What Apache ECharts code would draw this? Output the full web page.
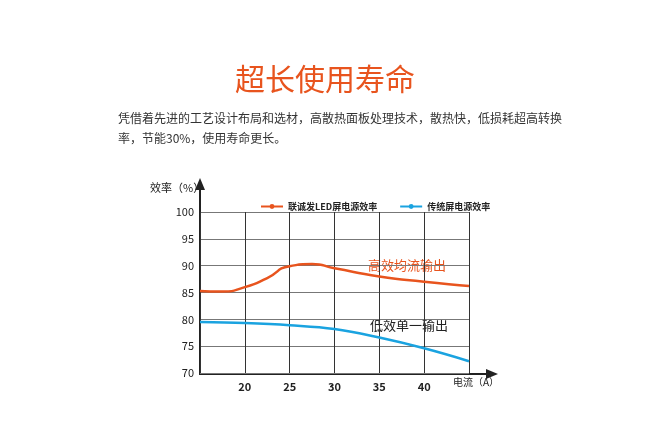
<!DOCTYPE html>
<html><head><meta charset="utf-8">
<script src="https://cdn.jsdelivr.net/npm/echarts@6/dist/echarts.min.js"></script>
<style>body{margin:0;background:#fff}#c{width:650px;height:444px}</style>
</head><body><div id="c"></div>
<script>
var xTicks = [15, 20, 25, 30, 35, 40, 45];
var ledX = [15, 17.5, 20, 22.5, 25, 27.5, 30, 35, 40, 45];
var ledEff = [85.3, 85.2, 86, 87.7, 89.9, 90.3, 89.5, 88, 87, 86.2];
var oldX = [15, 20, 25, 30, 35, 40, 45];
var oldEff = [79.5, 79.3, 78.9, 78.2, 76.6, 74.6, 72.2];
var ledName = '联诚发LED屏电源效率';
var oldName = '传统屏电源效率';

var chart = echarts.init(document.getElementById('c'));
var font = '"Noto Sans CJK SC", sans-serif';
chart.setOption({
  textStyle: {fontFamily: font},
  legend: {
    top: 197, left: 255, itemGap: 22, itemWidth: 22, itemHeight: 6,
    textStyle: {fontSize: 9, fontWeight: 'bold', color: '#222'},
    data: [ledName, oldName]
  },
  grid: {left: 200, top: 212, width: 269, height: 161},
  xAxis: {
    type: 'value', min: 15, max: 45, interval: 5,
    axisLine: {show: false}, axisTick: {show: false},
    axisLabel: {fontSize: 11, color: '#222', fontWeight: 'bold',
      formatter: function (v) { return (v === 15 || v === 45) ? '' : v; }},
    splitLine: {lineStyle: {color: '#333', width: 1}}
  },
  yAxis: {
    type: 'value', min: 70, max: 100, interval: 5,
    axisLine: {show: false}, axisTick: {show: false},
    axisLabel: {fontSize: 11, color: '#222', margin: 6},
    splitLine: {lineStyle: {color: '#777', width: 1}}
  },
  series: [
    {name: ledName, type: 'line', smooth: 0.6, symbol: 'none', color: '#e8541e',
      lineStyle: {width: 2.5}, data: ledX.map(function (x, i) { return [x, ledEff[i]]; })},
    {name: oldName, type: 'line', smooth: 0.4, symbol: 'none', color: '#1aa3e0',
      lineStyle: {width: 2.5}, data: oldX.map(function (x, i) { return [x, oldEff[i]]; })}
  ],
  graphic: [
    {type: 'text', left: 'center', top: 64, style: {text: '超长使用寿命', fontSize: 30, fill: '#e8541e', fontFamily: font}},
    {type: 'text', left: 118, top: 108, style: {text: '凭借着先进的工艺设计布局和选材，高散热面板处理技术，散热快，低损耗超高转换\n率，节能30%，使用寿命更长。', fontSize: 12, lineHeight: 20, fill: '#333', fontFamily: font}},
    {type: 'text', left: 150, top: 182, style: {text: '效率（%）', fontSize: 11, fill: '#222', fontFamily: font}},
    {type: 'text', left: 453, top: 377, style: {text: '电流（A）', fontSize: 10, fill: '#222', fontFamily: font}},
    {type: 'text', left: 368, top: 259, style: {text: '高效均流输出', fontSize: 13, fill: '#e8541e', fontFamily: font}},
    {type: 'text', left: 370, top: 319, style: {text: '低效单一输出', fontSize: 13, fill: '#222', fontFamily: font}},
    {type: 'line', shape: {x1: 200, y1: 374, x2: 200, y2: 184}, style: {stroke: '#222', lineWidth: 2}},
    {type: 'polygon', shape: {points: [[200, 178], [195, 190], [205, 190]]}, style: {fill: '#222'}},
    {type: 'line', shape: {x1: 199, y1: 374, x2: 492, y2: 374}, style: {stroke: '#222', lineWidth: 2}},
    {type: 'polygon', shape: {points: [[498, 374], [486, 369], [486, 379]]}, style: {fill: '#222'}}
  ]
});
</script></body></html>
